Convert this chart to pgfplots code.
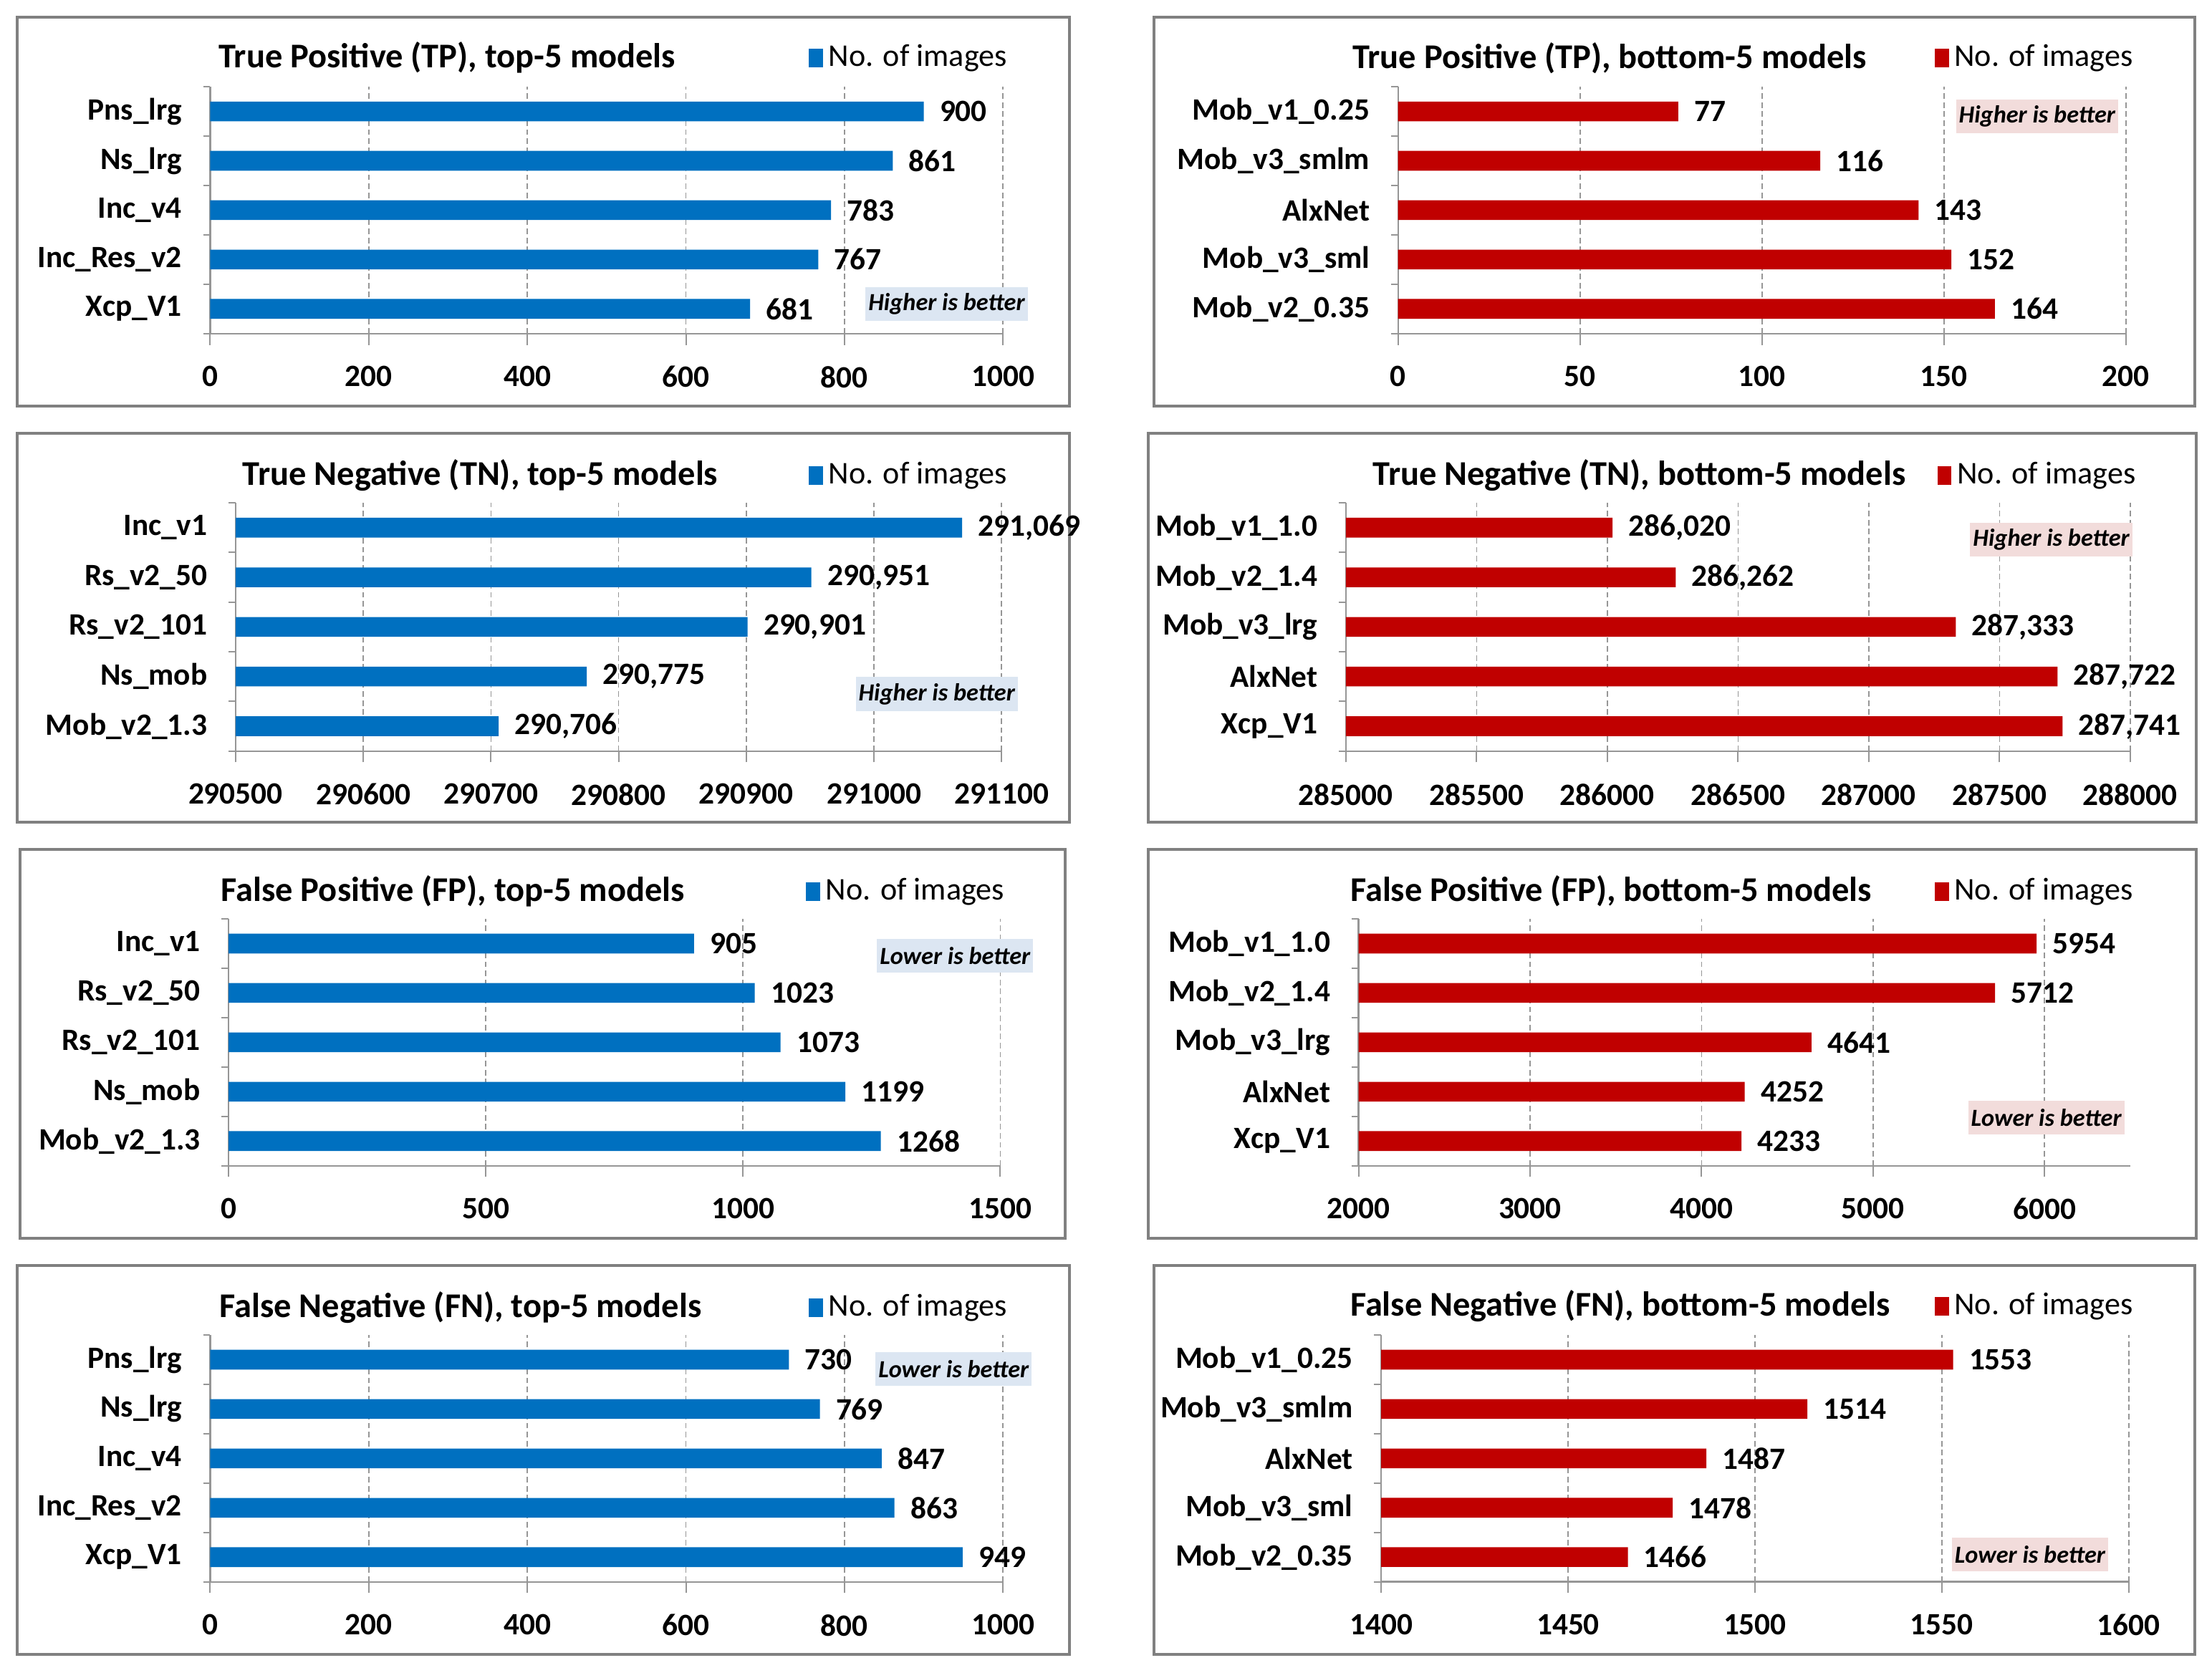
\documentclass[border=0pt]{standalone}
\usepackage{fontspec}
\setmainfont{Carlito}
\usepackage{pgfplots}
\pgfplotsset{compat=1.18}
\definecolor{barblue}{RGB}{0,112,192}
\definecolor{barred}{RGB}{192,0,0}
\definecolor{boxblue}{RGB}{220,230,242}
\definecolor{boxpink}{RGB}{242,220,219}
\definecolor{axgray}{RGB}{150,150,150}
\definecolor{framegray}{RGB}{128,128,128}

\pgfplotsset{
  panel/.style={
    xbar, scale only axis, anchor=south west,
    clip mode=individual,
    ymin=0.5, ymax=5.5,
    ytick={1,2,3,4,5},
    minor ytick={0.5,1.5,2.5,3.5,4.5,5.5},
    major y tick style={draw=none},
    minor tick length=2.5pt,
    major tick length=4pt,
    tick align=outside,
    axis x line*=bottom, axis y line*=left,
    axis line style={axgray, line width=0.6pt, -},
    every tick/.style={axgray, line width=0.5pt},
    xmajorgrids,
    grid style={axgray, dash pattern=on 2pt off 1.2pt, line width=0.4pt},
    bar width=7pt,
    tick label style={font=\fontsize{11}{13}\selectfont\bfseries},
    /pgf/number format/assume math mode=true,
    /pgf/number format/fixed,
    /pgf/number format/precision=0,
    /pgf/number format/1000 sep={},
    scaled x ticks=false,
    xticklabel style={yshift=-4pt},
    yticklabel style={xshift=-2.5pt},
    nodes near coords,
    every node near coord/.append style={font=\fontsize{11}{13}\selectfont\bfseries,
      anchor=west, inner sep=0pt, xshift=5.5pt, black},
    title style={font=\fontsize{12.3}{14}\selectfont\bfseries, anchor=center, yshift=-6pt},
    legend style={draw=none, fill=none, inner sep=0pt, anchor=west,
      font=\fontsize{11.2}{13}\selectfont},
    legend cell align=left,
    legend image code/.code={\fill[##1] (0pt,-3.3pt) rectangle (5pt,3.3pt);},
  },
}
\newcommand{\note}[3]{\node[fill=#1, font=\fontsize{8.7}{10}\selectfont\bfseries\itshape,
  inner xsep=1pt, inner ysep=0pt, minimum height=12pt] at (axis description cs:#2) {#3};}

\begin{document}
\begin{tikzpicture}
\useasboundingbox (0pt,0pt) rectangle (784pt,-593pt);

% panel frames
\begin{scope}[draw=framegray, line width=1pt]
\draw (6pt,-6pt) rectangle (379pt,-144pt);
\draw (409pt,-6pt) rectangle (778pt,-144pt);
\draw (6pt,-153.5pt) rectangle (379pt,-291.5pt);
\draw (407pt,-153.5pt) rectangle (778.5pt,-291.5pt);
\draw (7pt,-301pt) rectangle (377.5pt,-439pt);
\draw (407pt,-301pt) rectangle (778.5pt,-439pt);
\draw (6pt,-448.5pt) rectangle (379pt,-586.5pt);
\draw (409pt,-448.5pt) rectangle (778pt,-586.5pt);
\end{scope}

% TP top-5
\begin{axis}[panel, at={(74.5pt,-118.25pt)}, width=281pt, height=87.5pt,
  xmin=0, xmax=1000, xtick={0,200,400,600,800,1000},
  yticklabels={Xcp\_V1,Inc\_Res\_v2,Inc\_v4,Ns\_lrg,Pns\_lrg},
  title={True Positive (TP), top-5 models},
  title style={at={(0.2989,1.1171)}},
  legend style={at={(0.7544,1.1171)}}]
\addplot[fill=barblue, draw=none] coordinates {(681,1) (767,2) (783,3) (861,4) (900,5)};
\addlegendentry{No. of images}
\note{boxblue}{0.9288,0.12}{Higher is better}
\end{axis}

% TP bottom-5
\begin{axis}[panel, at={(495.5pt,-118.25pt)}, width=258pt, height=87.5pt,
  xmin=0, xmax=200, xtick={0,50,100,150,200},
  yticklabels={Mob\_v2\_0.35,Mob\_v3\_sml,AlxNet,Mob\_v3\_smlm,Mob\_v1\_0.25},
  title={True Positive (TP), bottom-5 models},
  title style={at={(0.2907,1.1171)}},
  legend style={at={(0.7364,1.1171)}}]
\addplot[fill=barred, draw=none] coordinates {(164,1) (152,2) (143,3) (116,4) (77,5)};
\addlegendentry{No. of images}
\note{boxpink}{0.8779,0.88}{Higher is better}
\end{axis}

% TN top-5
\begin{axis}[panel, at={(83.5pt,-266.25pt)}, width=271.5pt, height=88pt,
  xmin=290500, xmax=291100,
  xtick={290500,290600,290700,290800,290900,291000,291100},
  every node near coord/.append style={/pgf/number format/1000 sep={,}},
  yticklabels={Mob\_v2\_1.3,Ns\_mob,Rs\_v2\_101,Rs\_v2\_50,Inc\_v1},
  title={True Negative (TN), top-5 models},
  title style={at={(0.3195,1.1108)}},
  legend style={at={(0.7477,1.1108)}}]
\addplot[fill=barblue, draw=none] coordinates {(290706,1) (290775,2) (290901,3) (290951,4) (291069,5)};
\addlegendentry{No. of images}
\note{boxblue}{0.9153,0.2301}{Higher is better}
\end{axis}

% TN bottom-5
\begin{axis}[panel, at={(477pt,-266.25pt)}, width=278pt, height=88pt,
  xmin=285000, xmax=288000,
  xtick={285000,285500,286000,286500,287000,287500,288000},
  every node near coord/.append style={/pgf/number format/1000 sep={,}},
  yticklabels={Xcp\_V1,AlxNet,Mob\_v3\_lrg,Mob\_v2\_1.4,Mob\_v1\_1.0},
  title={True Negative (TN), bottom-5 models},
  title style={at={(0.3741,1.1108)}},
  legend style={at={(0.7536,1.1108)}}]
\addplot[fill=barred, draw=none] coordinates {(287741,1) (287722,2) (287333,3) (286262,4) (286020,5)};
\addlegendentry{No. of images}
\note{boxpink}{0.8993,0.8523}{Higher is better}
\end{axis}

% FP top-5
\begin{axis}[panel, at={(81pt,-413.25pt)}, width=273.5pt, height=87.5pt,
  xmin=0, xmax=1500, xtick={0,500,1000,1500},
  yticklabels={Mob\_v2\_1.3,Ns\_mob,Rs\_v2\_101,Rs\_v2\_50,Inc\_v1},
  title={False Positive (FP), top-5 models},
  title style={at={(0.2907,1.1114)}},
  legend style={at={(0.7477,1.1114)}}]
\addplot[fill=barblue, draw=none] coordinates {(1268,1) (1199,2) (1073,3) (1023,4) (905,5)};
\addlegendentry{No. of images}
\note{boxblue}{0.9415,0.8514}{Lower is better}
\end{axis}

% FP bottom-5
\begin{axis}[panel, at={(481.5pt,-413.25pt)}, width=273.5pt, height=87.5pt,
  xmin=2000, xmax=6500, xtick={2000,3000,4000,5000,6000},
  yticklabels={Xcp\_V1,AlxNet,Mob\_v3\_lrg,Mob\_v2\_1.4,Mob\_v1\_1.0},
  title={False Positive (FP), bottom-5 models},
  title style={at={(0.3272,1.1114)}},
  legend style={at={(0.7459,1.1114)}}]
\addplot[fill=barred, draw=none] coordinates {(4233,1) (4252,2) (4641,3) (5712,4) (5954,5)};
\addlegendentry{No. of images}
\note{boxpink}{0.8912,0.1943}{Lower is better}
\end{axis}

% FN top-5
\begin{axis}[panel, at={(74.5pt,-560.75pt)}, width=281pt, height=87.5pt,
  xmin=0, xmax=1000, xtick={0,200,400,600,800,1000},
  yticklabels={Xcp\_V1,Inc\_Res\_v2,Inc\_v4,Ns\_lrg,Pns\_lrg},
  title={False Negative (FN), top-5 models},
  title style={at={(0.3158,1.1114)}},
  legend style={at={(0.7544,1.1114)}}]
\addplot[fill=barblue, draw=none] coordinates {(949,1) (863,2) (847,3) (769,4) (730,5)};
\addlegendentry{No. of images}
\note{boxblue}{0.9377,0.8629}{Lower is better}
\end{axis}

% FN bottom-5
\begin{axis}[panel, at={(489.5pt,-560.75pt)}, width=265pt, height=87.5pt,
  xmin=1400, xmax=1600, xtick={1400,1450,1500,1550,1600},
  yticklabels={Mob\_v2\_0.35,Mob\_v3\_sml,AlxNet,Mob\_v3\_smlm,Mob\_v1\_0.25},
  title={False Negative (FN), bottom-5 models},
  title style={at={(0.3198,1.1171)}},
  legend style={at={(0.7396,1.1171)}}]
\addplot[fill=barred, draw=none] coordinates {(1466,1) (1478,2) (1487,3) (1514,4) (1553,5)};
\addlegendentry{No. of images}
\note{boxpink}{0.8679,0.1114}{Lower is better}
\end{axis}
\end{tikzpicture}
\end{document}
